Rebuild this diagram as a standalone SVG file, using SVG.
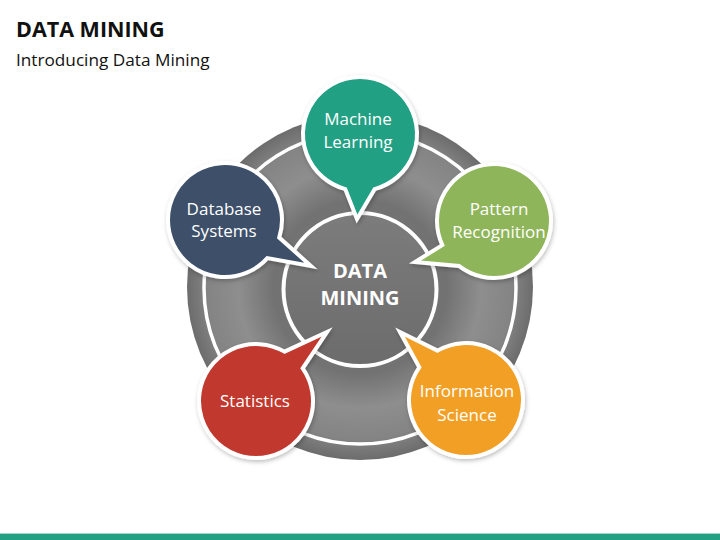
<svg xmlns="http://www.w3.org/2000/svg" width="720" height="540" viewBox="0 0 720 540">
  <defs>
    <radialGradient id="discGrad" cx="360" cy="287" r="173" gradientUnits="userSpaceOnUse">
      <stop offset="0" stop-color="#7a7a7a"/>
      <stop offset="0.5" stop-color="#727272"/>
      <stop offset="0.7" stop-color="#8e8e8e"/>
      <stop offset="0.88" stop-color="#848484"/>
      <stop offset="1" stop-color="#6c6c6c"/>
    </radialGradient>
    <linearGradient id="centerGrad" x1="0" y1="0" x2="0" y2="1">
      <stop offset="0" stop-color="#7c7c7c"/>
      <stop offset="1" stop-color="#6c6c6c"/>
    </linearGradient>
    <filter id="shadow" x="-20%" y="-20%" width="140%" height="140%">
      <feDropShadow dx="1" dy="2" stdDeviation="2" flood-color="#000" flood-opacity="0.25"/>
    </filter>
  </defs>
  <style>
    .title { font-family: "Open Sans", "Noto Sans", "Liberation Sans", sans-serif; font-weight: bold; font-size: 21.5px; fill: #111; }
    .sub { font-family: "Open Sans", "Noto Sans", "Liberation Sans", sans-serif; font-size: 17.2px; fill: #111; }
    .bubble { stroke: #ffffff; stroke-width: 4; stroke-linejoin: miter; filter: url(#shadow); }
    .lbl { font-family: "Open Sans", "Noto Sans", "Liberation Sans", sans-serif; font-size: 17px; fill: #ffffff; text-anchor: middle; }
    .center { font-family: "Open Sans", "Noto Sans", "Liberation Sans", sans-serif; font-weight: bold; font-size: 20px; fill: #ffffff; text-anchor: middle; }
  </style>
  <rect x="0" y="0" width="720" height="540" fill="#ffffff"/>
  <text class="title" x="16" y="37">DATA MINING</text>
  <text class="sub" x="16" y="66">Introducing Data Mining</text>

  <g id="disc">
    <circle cx="360" cy="287" r="173" fill="url(#discGrad)"/>
    <circle cx="360" cy="288" r="156" fill="none" stroke="#ffffff" stroke-width="3.5"/>
  </g>

  <g id="data-mining">
    <circle cx="360" cy="289.5" r="76.5" fill="url(#centerGrad)" stroke="#ffffff" stroke-width="4"/>
    <text class="center" x="360" y="278">DATA</text>
    <text class="center" x="360" y="305">MINING</text>
  </g>

  <g id="connectors"></g>

  <g id="machine-learning">
    <path class="bubble" fill="#20a083" d="M 345.25 189.06 A 57 57 0 1 1 374.75 189.06 L 357 219 Z"/>
    <text class="lbl" x="358" y="125">Machine</text>
    <text class="lbl" x="358" y="148">Learning</text>
  </g>

  <g id="database-systems">
    <path class="bubble" fill="#3e5069" d="M 267.36 258.14 A 57 57 0 1 1 279.21 237.61 L 311 266 Z"/>
    <text class="lbl" x="224" y="215">Database</text>
    <text class="lbl" x="224" y="237">Systems</text>
  </g>

  <g id="pattern-recognition">
    <path class="bubble" fill="#8fb55a" d="M 442.34 245.09 A 57 57 0 1 1 458.91 265.92 L 415 262 Z"/>
    <text class="lbl" x="499" y="215">Pattern</text>
    <text class="lbl" x="499" y="238">Recognition</text>
  </g>

  <g id="statistics">
    <path class="bubble" fill="#c0392f" d="M 302.69 368.31 A 57 57 0 1 1 284.5 351.64 L 327 332 Z"/>
    <text class="lbl" x="255" y="407">Statistics</text>
  </g>

  <g id="information-science">
    <path class="bubble" fill="#f29f26" d="M 437.5 350.64 A 57 57 0 1 1 419.31 367.31 L 400 332 Z"/>
    <text class="lbl" x="467" y="397">Information</text>
    <text class="lbl" x="467" y="421">Science</text>
  </g>

  <rect x="0" y="533" width="720" height="7" fill="#22a084"/>
  <rect x="0" y="533" width="720" height="1" fill="#9fd8c9"/>
</svg>
